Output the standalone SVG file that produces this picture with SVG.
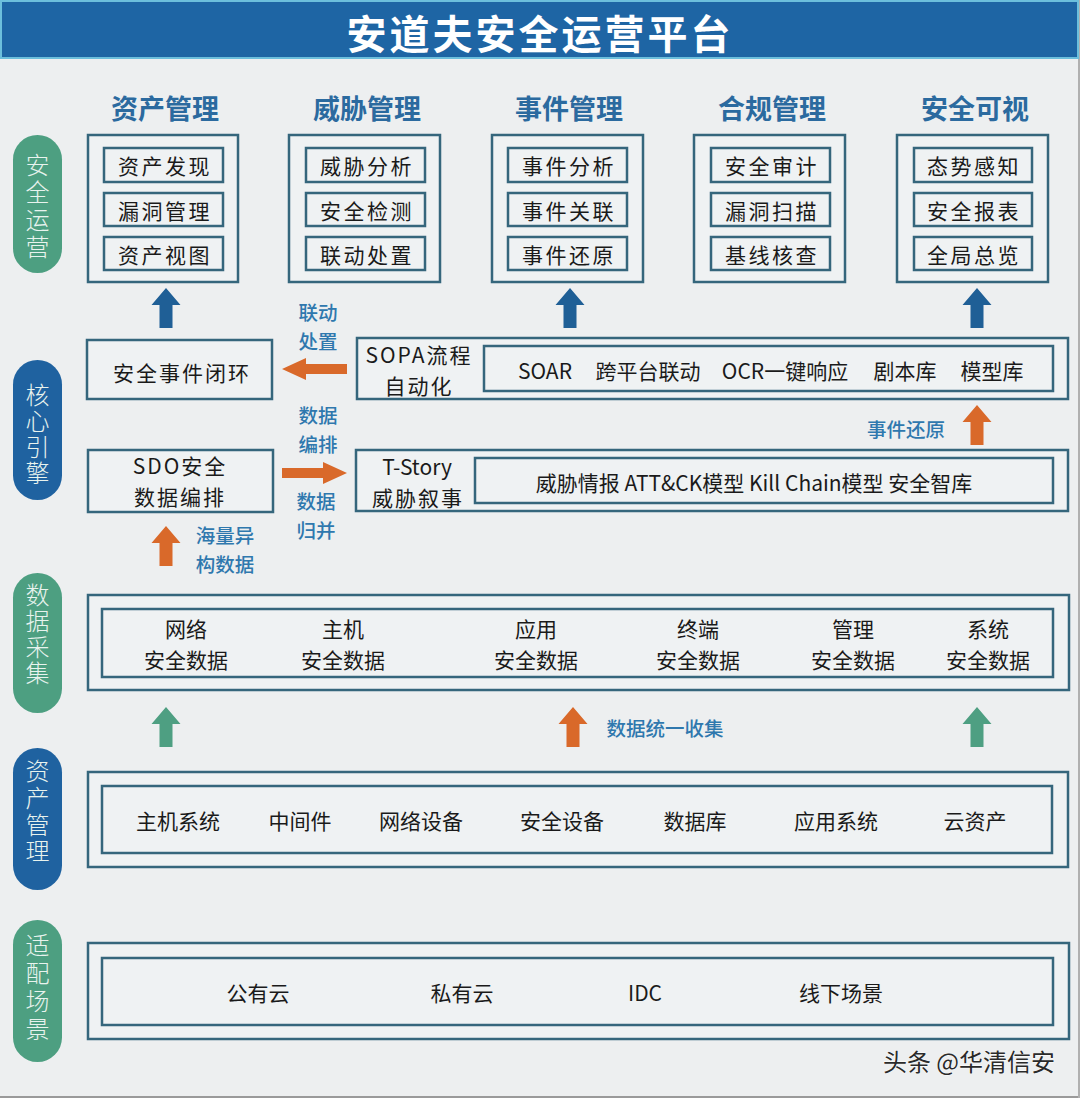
<svg xmlns="http://www.w3.org/2000/svg" width="1080" height="1098" viewBox="0 0 1080 1098">
<style>
text{font-family:"Noto Sans CJK SC","Noto Sans",sans-serif;dominant-baseline:central;text-anchor:middle}
.bx{fill:#eff2f3;stroke:#35667c;stroke-width:2.5}
.it{fill:#eff2f3;stroke:#35667c;stroke-width:2.5}
.t21{font-size:21px;fill:#1a1a1a;letter-spacing:2.5px}
.t22{font-size:21px;fill:#1a1a1a}
.t22s{font-size:21px;fill:#1a1a1a;letter-spacing:2px}
.hd{font-size:27px;font-weight:bold;fill:#2b6a9f}
.pill-g{fill:#4d9f81}
.pill-b{fill:#1f62a0}
.pt{font-size:24px;fill:#e8f3ee;font-weight:300;writing-mode:vertical-rl}
.lb{font-size:19.5px;fill:#2f78ae;font-weight:500}
.ab{fill:#1f5f96}
.ao{fill:#d9692a}
.ag{fill:#4e9f82}
</style>
<defs>
<path id="up" d="M0,0 L14.5,17 L6.5,17 L6.5,40 L-6.5,40 L-6.5,17 L-14.5,17 Z"/>
<path id="lt" d="M0,0 L24,-11 L24,-5 L65,-5 L65,5 L24,5 L24,11 Z"/>
</defs>
<rect x="0" y="0" width="1080" height="1098" fill="#edeff0"/>
<line x1="0" y1="1097" x2="1080" y2="1097" stroke="#9a9a9a" stroke-width="2"/>
<line x1="1079" y1="0" x2="1079" y2="1098" stroke="#b0b0b0" stroke-width="2"/>

<g id="title">
<rect x="1" y="1" width="1077" height="57" fill="#1e65a4" stroke="#6cbfdc" stroke-width="2"/>
<text x="540" y="32" style="font-size:40px;font-weight:bold;fill:#ffffff;letter-spacing:3px">安道夫安全运营平台</text>
</g>

<g id="pill-ops"><rect class="pill-g" x="13" y="135" width="49" height="138" rx="24.5"/>
<text class="pt" x="37.5" y="207.5" style="letter-spacing:3.3px">安全运营</text></g>
<g id="pill-engine"><rect class="pill-b" x="13" y="360" width="49" height="140" rx="24.5"/>
<text class="pt" x="37.5" y="435" style="letter-spacing:2px">核心引擎</text></g>
<g id="pill-collect"><rect class="pill-g" x="13" y="573" width="49" height="140" rx="24.5"/>
<text class="pt" x="37.5" y="635" style="letter-spacing:2px">数据采集</text></g>
<g id="pill-asset"><rect class="pill-b" x="13" y="748" width="49" height="142" rx="24.5"/>
<text class="pt" x="37.5" y="812.5" style="letter-spacing:2.7px">资产管理</text></g>
<g id="pill-scene"><rect class="pill-g" x="13" y="920" width="49" height="142" rx="24.5"/>
<text class="pt" x="37.5" y="988.5" style="letter-spacing:4px">适配场景</text></g>

<g id="mod-asset">
<text class="hd" x="165" y="107">资产管理</text>
<rect class="bx" x="88" y="135" width="150" height="147"/>
<rect class="it" x="104" y="148" width="119" height="34"/><text class="t21" x="165" y="165">资产发现</text>
<rect class="it" x="104" y="193" width="119" height="33"/><text class="t21" x="165" y="209.5">漏洞管理</text>
<rect class="it" x="104" y="237" width="119" height="33"/><text class="t21" x="165" y="253.5">资产视图</text>
</g>
<g id="mod-threat">
<text class="hd" x="367" y="107">威胁管理</text>
<rect class="bx" x="289" y="135" width="151" height="147"/>
<rect class="it" x="306" y="148" width="119" height="34"/><text class="t21" x="367" y="165">威胁分析</text>
<rect class="it" x="306" y="193" width="119" height="33"/><text class="t21" x="367" y="209.5">安全检测</text>
<rect class="it" x="306" y="237" width="119" height="33"/><text class="t21" x="367" y="253.5">联动处置</text>
</g>
<g id="mod-event">
<text class="hd" x="569" y="107">事件管理</text>
<rect class="bx" x="492" y="135" width="151" height="147"/>
<rect class="it" x="508" y="148" width="119" height="34"/><text class="t21" x="569" y="165">事件分析</text>
<rect class="it" x="508" y="193" width="119" height="33"/><text class="t21" x="569" y="209.5">事件关联</text>
<rect class="it" x="508" y="237" width="119" height="33"/><text class="t21" x="569" y="253.5">事件还原</text>
</g>
<g id="mod-compliance">
<text class="hd" x="772" y="107">合规管理</text>
<rect class="bx" x="694" y="135" width="151" height="147"/>
<rect class="it" x="711" y="148" width="119" height="34"/><text class="t21" x="772" y="165">安全审计</text>
<rect class="it" x="711" y="193" width="119" height="33"/><text class="t21" x="772" y="209.5">漏洞扫描</text>
<rect class="it" x="711" y="237" width="119" height="33"/><text class="t21" x="772" y="253.5">基线核查</text>
</g>
<g id="mod-visual">
<text class="hd" x="975" y="107">安全可视</text>
<rect class="bx" x="897" y="135" width="151" height="147"/>
<rect class="it" x="914" y="148" width="118" height="34"/><text class="t21" x="974" y="165">态势感知</text>
<rect class="it" x="914" y="193" width="118" height="33"/><text class="t21" x="974" y="209.5">安全报表</text>
<rect class="it" x="914" y="237" width="118" height="33"/><text class="t21" x="974" y="253.5">全局总览</text>
</g>

<g id="closed-loop">
<rect class="bx" x="87" y="340" width="185" height="59"/>
<text class="t22s" x="182" y="372">安全事件闭环</text>
</g>
<g id="sopa">
<rect class="bx" x="357" y="338" width="711" height="61"/>
<rect class="it" x="484" y="346" width="569" height="45"/>
<text class="t22s" x="419" y="354">SOPA流程</text>
<text class="t22s" x="419" y="385">自动化</text>
<text class="t22" x="545" y="370">SOAR</text>
<text class="t22" x="648" y="370">跨平台联动</text>
<text class="t22" x="785" y="370">OCR一键响应</text>
<text class="t22" x="905" y="370">剧本库</text>
<text class="t22" x="992" y="370">模型库</text>
</g>
<g id="sdo">
<rect class="bx" x="88" y="450" width="185" height="62"/>
<text class="t22s" x="180" y="465">SDO安全</text>
<text class="t22s" x="180" y="496">数据编排</text>
</g>
<g id="tstory">
<rect class="bx" x="356" y="450" width="712" height="61"/>
<rect class="it" x="475" y="458" width="578" height="45"/>
<text class="t22" x="417" y="466">T-Story</text>
<text class="t22s" x="418" y="497">威胁叙事</text>
<text class="t22" x="754" y="482">威胁情报 ATT&amp;CK模型 Kill Chain模型 安全智库</text>
</g>

<g id="collect">
<rect class="bx" x="88" y="595" width="981" height="95"/>
<rect class="it" x="102" y="609" width="951" height="68"/>
<text class="t22" x="186" y="628">网络</text><text class="t22" x="186" y="659">安全数据</text>
<text class="t22" x="343" y="628">主机</text><text class="t22" x="343" y="659">安全数据</text>
<text class="t22" x="536" y="628">应用</text><text class="t22" x="536" y="659">安全数据</text>
<text class="t22" x="698" y="628">终端</text><text class="t22" x="698" y="659">安全数据</text>
<text class="t22" x="853" y="628">管理</text><text class="t22" x="853" y="659">安全数据</text>
<text class="t22" x="988" y="628">系统</text><text class="t22" x="988" y="659">安全数据</text>
</g>
<g id="assets">
<rect class="bx" x="88" y="772" width="980" height="95"/>
<rect class="it" x="102" y="786" width="950" height="67"/>
<text class="t22" x="178" y="820">主机系统</text>
<text class="t22" x="300" y="820">中间件</text>
<text class="t22" x="421" y="820">网络设备</text>
<text class="t22" x="562" y="820">安全设备</text>
<text class="t22" x="695" y="820">数据库</text>
<text class="t22" x="836" y="820">应用系统</text>
<text class="t22" x="975" y="820">云资产</text>
</g>
<g id="scenes">
<rect class="bx" x="88" y="943" width="981" height="96"/>
<rect class="it" x="102" y="958" width="951" height="67"/>
<text class="t22" x="258" y="992">公有云</text>
<text class="t22" x="462" y="992">私有云</text>
<text class="t22" x="645" y="992">IDC</text>
<text class="t22" x="841" y="992">线下场景</text>
</g>

<g id="connectors">
<use href="#up" class="ab" x="166" y="288"/>
<use href="#up" class="ab" x="570" y="288"/>
<use href="#up" class="ab" x="977" y="288"/>
<use href="#lt" class="ao" x="282" y="369"/>
<use href="#lt" class="ao" transform="translate(347,473) rotate(180)"/>
<use href="#up" class="ao" x="977" y="405"/>
<use href="#up" class="ao" x="166" y="526"/>
<use href="#up" class="ag" x="166" y="707"/>
<use href="#up" class="ao" x="573" y="707"/>
<use href="#up" class="ag" x="977" y="707"/>
<text class="lb" x="318" y="311">联动</text>
<text class="lb" x="318" y="340">处置</text>
<text class="lb" x="318" y="414">数据</text>
<text class="lb" x="318" y="443">编排</text>
<text class="lb" x="316" y="500">数据</text>
<text class="lb" x="316" y="529">归并</text>
<text class="lb" x="906" y="428">事件还原</text>
<text class="lb" x="225" y="534">海量异</text>
<text class="lb" x="225" y="563">构数据</text>
<text class="lb" x="665" y="727">数据统一收集</text>
</g>

<text x="1055" y="1060" style="font-size:24px;fill:#2a2a2a;stroke:#ffffff;stroke-width:0.8;paint-order:stroke;text-anchor:end">头条 @华清信安</text>
</svg>
